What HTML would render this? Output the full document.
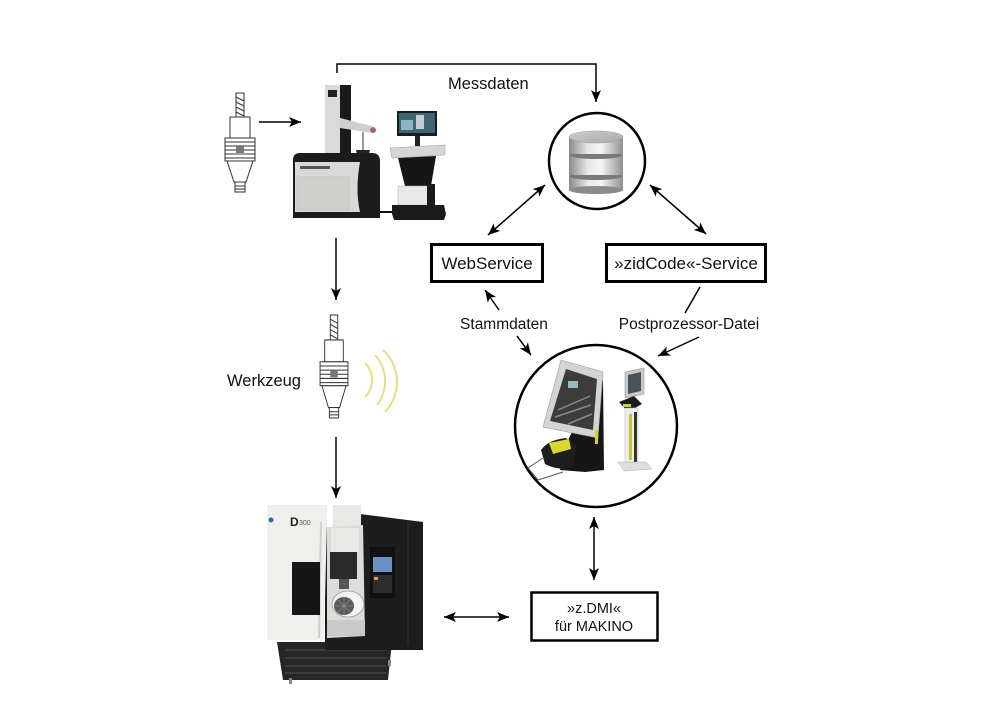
<!DOCTYPE html>
<html><head><meta charset="utf-8"><style>
html,body{margin:0;padding:0;background:#fff;}
svg{display:block;}
text{font-family:"Liberation Sans",sans-serif;fill:#111;}
</style></head><body>
<svg width="992" height="720" viewBox="0 0 992 720" xmlns="http://www.w3.org/2000/svg">
<defs>
<marker id="ah" viewBox="0 0 12 10" refX="12" refY="5" markerWidth="12" markerHeight="10" orient="auto-start-reverse" markerUnits="userSpaceOnUse">
<path d="M0,0 L12,5 L0,10 L3,5 z" fill="#000"/>
</marker>
<linearGradient id="silver" x1="0" x2="1" y1="0" y2="0">
<stop offset="0" stop-color="#8a8a8a"/><stop offset="0.35" stop-color="#e8e8e8"/><stop offset="0.6" stop-color="#f4f4f4"/><stop offset="1" stop-color="#8f8f8f"/>
</linearGradient>
<linearGradient id="silverTop" x1="0" x2="1" y1="0" y2="1">
<stop offset="0" stop-color="#cfcfcf"/><stop offset="1" stop-color="#a8a8a8"/>
</linearGradient>
<g id="tool" fill="#fff" stroke="#333" stroke-width="1">
<rect x="-4" y="0" width="8" height="25"/>
<path d="M-4,4 L4,8 M-4,9 L4,13 M-4,14 L4,18 M-4,19 L4,23" fill="none"/>
<rect x="-10" y="24" width="20" height="21"/>
<rect x="-15" y="45" width="30" height="23"/>
<path d="M-15,49 H15 M-15,53 H15 M-15,57 H15 M-15,61 H15 M-15,65 H15" fill="none"/>
<rect x="-4" y="53" width="8" height="7" fill="#777" stroke="none"/>
<polygon points="-13,68 13,68 6,89 -6,89"/>
<rect x="-5" y="89" width="10" height="10"/>
<path d="M-5,93 H5 M-5,96 H5" fill="none"/>
</g>
</defs>

<!-- Messdaten connector -->
<polyline points="337,73 337,64 596,64 596,102" fill="none" stroke="#000" stroke-width="1.5" marker-end="url(#ah)"/>
<text x="448" y="89" font-size="16.5">Messdaten</text>

<!-- top-left tool -->
<use href="#tool" transform="translate(240,93)"/>
<line x1="259" y1="122" x2="301" y2="122" stroke="#000" stroke-width="1.5" marker-end="url(#ah)"/>

<!-- tool presetter machine -->
<g>
<rect x="325" y="85" width="16" height="72" fill="#dadad8"/>
<rect x="340" y="85" width="11" height="72" fill="#1a1a1a"/>
<rect x="328" y="90" width="9" height="7" fill="#222"/>
<polygon points="340,118 372,126 372,133 340,128" fill="#cfcfcf"/>
<circle cx="373" cy="130" r="3" fill="#a66"/>
<line x1="363" y1="132" x2="363" y2="150" stroke="#333"/>
<polygon points="356,150 370,150 368,158 358,158" fill="#222"/>
<path d="M293,160 Q293,153 300,153 L372,153 Q380,153 380,161 L380,218 L293,218 Z" fill="#1c1c1c"/>
<rect x="295" y="162" width="65" height="50" fill="#d9d9d7"/>
<rect x="297" y="177" width="52" height="33" fill="#cfcfcd" stroke="#bbb" stroke-width="0.6"/>
<rect x="300" y="166" width="30" height="3" fill="#555"/>
<path d="M360,162 L370,162 Q380,162 380,172 L380,212 L360,212 Q355,190 360,162 Z" fill="#1c1c1c"/>
<path d="M380,212 L393,212" stroke="#111" stroke-width="2"/>
<rect x="397" y="111" width="40" height="25" fill="#1b1b1b"/>
<rect x="399" y="113" width="36" height="20" fill="#3d6675"/>
<rect x="401" y="120" width="12" height="10" fill="#8ab5c0"/>
<rect x="416" y="115" width="8" height="14" fill="#c5ced2"/>
<rect x="415" y="136" width="5" height="10" fill="#222"/>
<polygon points="390,148 445,145 445,155 392,158" fill="#d5d5d5" stroke="#999" stroke-width="0.5"/>
<polygon points="398,158 436,156 431,186 405,186" fill="#161616"/>
<rect x="398" y="186" width="30" height="19" fill="#e8e8e6" stroke="#aaa" stroke-width="0.5"/>
<rect x="427" y="184" width="8" height="22" fill="#1a1a1a"/>
<polygon points="392,205 444,205 446,214 444,220 394,220 392,214" fill="#1a1a1a"/>
</g>

<!-- vertical arrows left -->
<line x1="336" y1="238" x2="336" y2="300" stroke="#000" stroke-width="1.5" marker-end="url(#ah)"/>
<line x1="336" y1="437" x2="336" y2="498" stroke="#000" stroke-width="1.5" marker-end="url(#ah)"/>

<!-- Werkzeug -->
<use href="#tool" transform="translate(334,315) scale(0.93,1.04)"/>
<text x="227" y="386" font-size="16.5">Werkzeug</text>
<g fill="none" stroke="#e2e27a" stroke-width="2">
<path d="M365,363 A24,24 0 0 1 365,397"/>
<path d="M375,355 A39,39 0 0 1 377,405"/>
<path d="M383,350 A43.5,43.5 0 0 1 385,412"/>
</g>

<!-- DB circle -->
<circle cx="597" cy="161" r="48" fill="#fff" stroke="#000" stroke-width="2.5"/>
<g>
<rect x="569" y="176" width="54" height="14" fill="url(#silver)"/>
<ellipse cx="596" cy="190" rx="27" ry="4" fill="#8a8a8a"/>
<ellipse cx="596" cy="176" rx="27" ry="4" fill="#7a7a7a"/>
<rect x="569" y="155" width="54" height="20" fill="url(#silver)"/>
<ellipse cx="596" cy="155" rx="27" ry="4" fill="#7a7a7a"/>
<rect x="569" y="137" width="54" height="17" fill="url(#silver)"/>
<ellipse cx="596" cy="137" rx="27" ry="6" fill="url(#silverTop)" stroke="#999" stroke-width="0.5"/>
</g>

<!-- DB arrows -->
<line x1="545" y1="185" x2="488" y2="235" stroke="#000" stroke-width="1.5" marker-start="url(#ah)" marker-end="url(#ah)"/>
<line x1="650" y1="185" x2="706" y2="234" stroke="#000" stroke-width="1.5" marker-start="url(#ah)" marker-end="url(#ah)"/>

<!-- boxes -->
<rect x="431.5" y="244.5" width="111" height="37" fill="#fff" stroke="#000" stroke-width="3"/>
<text x="487" y="269" font-size="17" text-anchor="middle">WebService</text>
<rect x="606.5" y="244.5" width="159" height="37" fill="#fff" stroke="#000" stroke-width="3"/>
<text x="686" y="269" font-size="17" text-anchor="middle">»zidCode«-Service</text>

<!-- Stammdaten / Postprozessor -->
<line x1="499" y1="310" x2="485" y2="290" stroke="#000" stroke-width="1.5" marker-end="url(#ah)"/>
<text x="504" y="329" font-size="15.5" text-anchor="middle">Stammdaten</text>
<line x1="517" y1="336" x2="531" y2="355" stroke="#000" stroke-width="1.5" marker-end="url(#ah)"/>
<line x1="700" y1="287" x2="685" y2="313" stroke="#000" stroke-width="1.5"/>
<text x="689" y="329" font-size="15.5" text-anchor="middle">Postprozessor-Datei</text>
<line x1="699" y1="337" x2="658" y2="356" stroke="#000" stroke-width="1.5" marker-end="url(#ah)"/>

<!-- kiosk circle -->
<circle cx="596" cy="426" r="81" fill="#fff" stroke="#000" stroke-width="2.5"/>
<g>
<polygon points="578,420 603,380 604,470 585,472 560,470 568,440" fill="#161616"/>
<polygon points="561,360 603,372 598,438 543,427" fill="#d3d4d3" stroke="#999" stroke-width="0.6"/>
<polygon points="566,369 597,379 593,430 550,421" fill="#3c3c3c"/>
<path d="M558,410 L590,396 M555,417 L591,405 M568,424 L592,414" stroke="#8a8a8a" stroke-width="1.5"/>
<rect x="568" y="381" width="10" height="7" fill="#9bb"/>
<rect x="595" y="430" width="3" height="14" fill="#d4d420"/>
<path d="M541,450 Q548,440 566,438 L576,446 L574,466 Q560,472 545,464 Z" fill="#1e1e1e"/>
<path d="M549,443 L569,439 L571,449 L553,454 Z" fill="#d8d82a"/>
<path d="M543,458 L528,468 L538,480 L563,472" fill="none" stroke="#555" stroke-width="1"/>
<polygon points="625,372 644,368 644,394 625,398" fill="#c8c9c9" stroke="#999" stroke-width="0.6"/>
<polygon points="628,375 641,372 641,391 628,394" fill="#4a5357"/>
<path d="M619,402 L634,396 L642,404 L628,412 Z" fill="#1c1c1c"/>
<rect x="623" y="404" width="8" height="3" fill="#d4d420"/>
<rect x="625" y="408" width="13" height="56" fill="#ececec" stroke="#bbb" stroke-width="0.5"/>
<rect x="629" y="414" width="3" height="46" fill="#c8c820"/>
<rect x="634" y="412" width="3" height="50" fill="#333"/>
<polygon points="618,462 646,462 652,469 624,471" fill="#dedede" stroke="#aaa" stroke-width="0.5"/>
</g>

<!-- bottom arrows -->
<line x1="594" y1="517" x2="594" y2="580" stroke="#000" stroke-width="1.5" marker-start="url(#ah)" marker-end="url(#ah)"/>
<line x1="444" y1="617" x2="509" y2="617" stroke="#000" stroke-width="1.5" marker-start="url(#ah)" marker-end="url(#ah)"/>

<!-- z.DMI box -->
<rect x="531.5" y="592.5" width="126" height="48" fill="#fff" stroke="#000" stroke-width="2.5"/>
<text x="594" y="613" font-size="14.5" text-anchor="middle">»z.DMI«</text>
<text x="594" y="631" font-size="14.5" text-anchor="middle">für MAKINO</text>

<!-- milling machine -->
<g>
<polygon points="277,642 392,642 388,680 283,680" fill="#262626"/>
<path d="M285,650 H386 M285,658 H386 M285,666 H386 M285,673 H386" stroke="#3c3c3c" stroke-width="2"/>
<rect x="289" y="678" width="3" height="6" fill="#888"/>
<rect x="388" y="660" width="3" height="6" fill="#888"/>
<polygon points="325,527 337,527 360,514 423,522 423,650 325,650" fill="#1d1d1d"/>
<rect x="333" y="505" width="28" height="22" fill="#e8e8e6"/>
<polygon points="327,527 363,525 365,636 327,638" fill="#dcdcda"/>
<rect x="331" y="528" width="28" height="24" fill="#e8e8e6"/>
<rect x="330" y="552" width="27" height="27" fill="#2a2a2a"/>
<rect x="339" y="579" width="10" height="10" fill="#555"/>
<ellipse cx="348" cy="604" rx="16" ry="13" fill="#f2f2f2" stroke="#999" stroke-width="0.8"/>
<ellipse cx="344" cy="606" rx="10" ry="9" fill="#5a5a5a"/>
<path d="M344,597 V615 M335,606 H353 M338,600 L350,612 M350,600 L338,612" stroke="#888" stroke-width="0.8"/>
<rect x="327" y="620" width="38" height="16" fill="#c9c9c7"/>
<rect x="370" y="547" width="25" height="51" fill="#111"/>
<rect x="373" y="557" width="19" height="15" fill="#6d8fc5"/>
<rect x="373" y="575" width="19" height="18" fill="#2c2c2c"/>
<rect x="374" y="577" width="4" height="3" fill="#d7a530"/>
<line x1="408" y1="520" x2="408" y2="645" stroke="#333" stroke-width="1"/>
<polygon points="267,505 327,505 327,522 324,640 267,640" fill="#efefed"/>
<line x1="321" y1="522" x2="319" y2="638" stroke="#cfcfcd" stroke-width="2"/>
<rect x="292" y="562" width="28" height="53" fill="#161616"/>
<circle cx="271" cy="520" r="2.5" fill="#3a66a0"/>
<text x="290" y="526" font-size="12" font-weight="bold" style="fill:#222">D</text>
<text x="299" y="525" font-size="7" style="fill:#555">300</text>
</g>
</svg>
</body></html>
